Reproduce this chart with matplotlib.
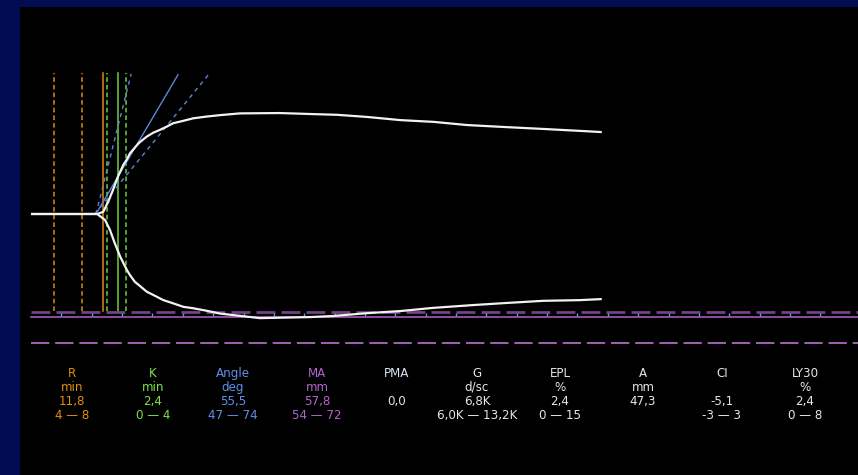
import matplotlib
matplotlib.use("Agg")
import matplotlib.pyplot as plt

# trace data: time (min) vs half amplitude (mm)
t_up = [0, 10.9, 11.9, 12.7, 13.5, 14.3, 15.2, 15.8, 16.3, 17.0, 17.7, 18.4, 19.05,
        20.1, 21.2, 22.3, 23.4, 25.1, 26.7, 28.9, 31.1, 34.4, 41.0, 46.4, 50.4,
        55.3, 60.8, 66.3, 71.8, 78.4, 84.3, 90.9, 94.0]
a_up = [0, 0, 0.6, 3.4, 6.8, 10.5, 13.9, 15.5, 17.2, 18.6, 20.0, 21.0, 21.9,
        23.0, 23.8, 24.7, 25.7, 26.4, 27.1, 27.6, 28.0, 28.5, 28.6, 28.3, 28.1,
        27.5, 26.6, 26.1, 25.2, 24.6, 24.1, 23.5, 23.2]

t_low = [0, 10.9, 12.2, 13.0, 13.8, 14.7, 15.8, 16.3, 17.1, 17.95, 19.05, 20.1,
         21.8, 23.4, 25.1, 26.7, 28.9, 31.1, 37.7, 46.0, 49.7, 55.3, 60.8, 66.2,
         72.8, 78.4, 84.3, 90.4, 94.0]
a_low = [0, 0, -1.7, -4.5, -8.3, -12.1, -15.9, -17.3, -19.2, -20.4, -22.0, -22.9,
         -24.4, -25.3, -26.3, -26.7, -27.4, -28.2, -29.5, -29.2, -28.9, -28.1, -27.5,
         -26.6, -25.8, -25.2, -24.6, -24.4, -24.1]

# reference markers (min)
r_range = [3.8, 8.4]
r_value = 11.8
k_range = [12.5, 15.6]
k_value = 14.3
tick_times = list(range(5, 135, 5))

# angle lines: (t0, a0, t1, a1)
angle_line = [10.7, 0, 24.2, 39.4]
angle_low = [10.5, 0, 29.2, 39.4]
angle_high = [10.7, 0, 16.5, 39.7]

# result table
names = ["R", "K", "Angle", "MA", "PMA", "G", "EPL", "A", "CI", "LY30"]
units = ["min", "min", "deg", "mm", "", "d/sc", "%", "mm", "", "%"]
values = ["11,8", "2,4", "55,5", "57,8", "0,0", "6,8K", "2,4", "47,3", "-5,1", "2,4"]
ranges = ["4 \u2014 8", "0 \u2014 4", "47 \u2014 74", "54 \u2014 72", "",
          "6,0K \u2014 13,2K", "0 \u2014 15", "", "-3 \u2014 3", "0 \u2014 8"]
colors = ["#e38c0a", "#80e04a", "#5f8fe8", "#b462cc", "#d8e4f4",
          "#e6e6e6", "#e6e6e6", "#e6e6e6", "#e6e6e6", "#e6e6e6"]
col_x = [72, 153, 233, 317, 397, 477, 560, 643, 722, 805]

W, H = 858, 475
fig = plt.figure(figsize=(W / 100, H / 100), dpi=100)
fig.patch.set_facecolor("#000d52")

ax = fig.add_axes([20 / W, 0, 838 / W, 468 / H])
ax.set_facecolor("black")
ax.set_xlim(-1.81, 136.2)
ax.set_ylim(-73.94, 58.64)
ax.set_xticks([])
ax.set_yticks([])
for sp in ax.spines.values():
    sp.set_visible(False)

top, bot = 40.0, -27.5
for t in r_range:
    ax.plot([t, t], [bot, top], color="#e08a10", lw=1.1, ls=(0, (3, 2)))
ax.plot([r_value, r_value], [bot, top], color="#e08a10", lw=1.1)
for t in k_range:
    ax.plot([t, t], [bot, top], color="#6cd040", lw=1.1, ls=(0, (3, 2)))
ax.plot([k_value, k_value], [bot, top], color="#6cd040", lw=1.1)

ax.plot(angle_line[0::2], angle_line[1::2], color="#5c86d8", lw=1.0)
for ln in (angle_low, angle_high):
    ax.plot(ln[0::2], ln[1::2], color="#5c86d8", lw=1.0, ls=(0, (3, 3)))

# baseline guides
ax.plot([0, 136.2], [-27.8, -27.8], color="#6e4482", lw=2.0, ls=(0, (6.8, 2.2)))
ax.plot([0, 136.2], [-29.2, -29.2], color="#9c50ae", lw=1.3)
ax.plot([0, 136.2], [-36.5, -36.5], color="#c070d0", lw=1.2, ls=(0, (11, 3.5)))
ax.vlines(tick_times, -29.0, -28.0, color="#4aa8d8", lw=1.0)

ax.plot(t_up, a_up, color="#f2f2f2", lw=1.6, solid_capstyle="butt")
ax.plot(t_low, a_low, color="#f2f2f2", lw=1.6, solid_capstyle="butt")

rows = [names, units, values, ranges]
base_y = [377, 391, 405, 419]
for row, y in zip(rows, base_y):
    for x, s, c in zip(col_x, row, colors):
        if s:
            fig.text(x / W, 1 - y / H, s, color=c, ha="center", va="baseline",
                     fontsize=8.6, family="DejaVu Sans")

fig.savefig("out.png", dpi=100, facecolor=fig.get_facecolor())
